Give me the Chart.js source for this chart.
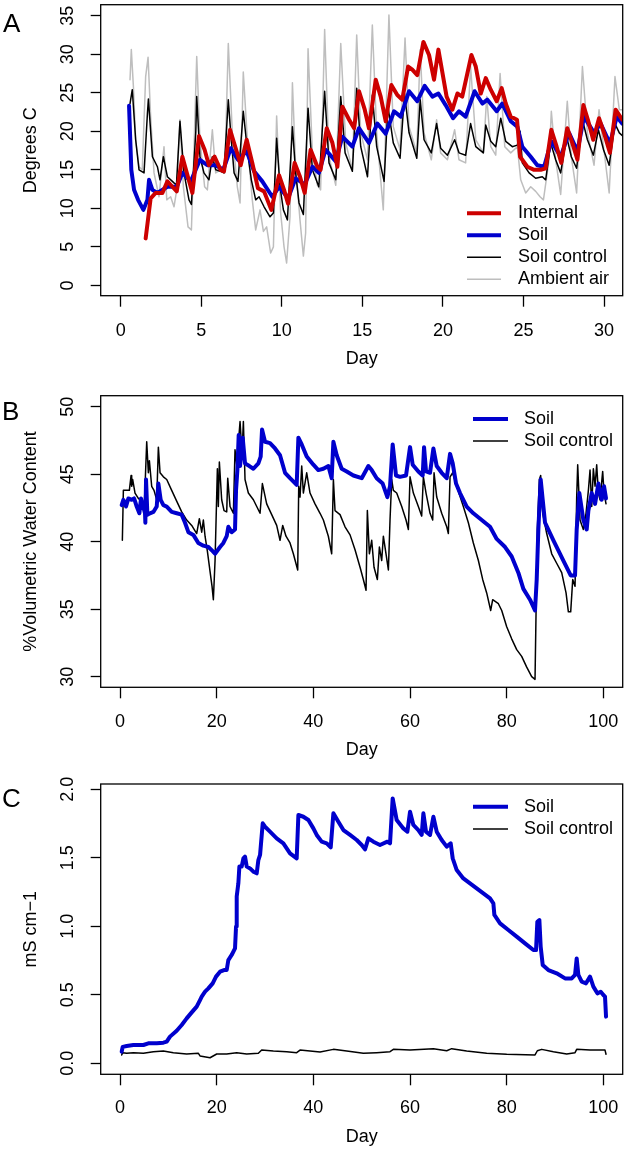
<!DOCTYPE html>
<html>
<head>
<meta charset="utf-8">
<script src="https://cdn.jsdelivr.net/npm/chart.js@4.4.1/dist/chart.umd.min.js"></script>
<style>
  body { margin: 0; background: #fff; }
  #page { position: relative; width: 626px; height: 1150px; }
  canvas { position: absolute; left: 0; }
  .tag { position: absolute; font: 26px "Liberation Sans", Arial, sans-serif; line-height: 30px; color: #000; }
</style>
</head>
<body>
<div id="page">
  <canvas id="chartA" width="626" height="385" style="top:0px"></canvas>
  <canvas id="chartB" width="626" height="390" style="top:385px"></canvas>
  <canvas id="chartC" width="626" height="375" style="top:775px"></canvas>
  <div class="tag" style="left:3px;top:7.6px">A</div>
  <div class="tag" style="left:2px;top:396px">B</div>
  <div class="tag" style="left:2px;top:783px">C</div>
</div>
<script>
// ---- panel A: temperature, [day, degrees C]
const aInternal = [[1.55,6.1],[1.86,11.3],[2.17,12.0],[2.59,12.0],[2.9,13.5],[3.21,12.8],[3.48,12.2],[3.83,16.7],[4.45,12.0],[4.86,19.4],[5.21,17.6],[5.48,15.6],[5.83,16.7],[6.2,15.0],[6.41,14.8],[6.79,20.2],[7.14,17.8],[7.45,15.6],[7.82,18.9],[8.17,15.9],[8.52,12.6],[8.9,12.2],[9.35,9.8],[9.83,14.3],[10.14,12.4],[10.39,10.6],[10.8,15.9],[11.13,14.1],[11.42,12.0],[11.79,17.6],[12.21,15.4],[12.41,15.0],[12.79,20.4],[13.14,18.5],[13.45,15.4],[13.76,23.2],[14.18,21.5],[14.49,20.4],[14.79,25.2],[15.15,22.8],[15.41,20.4],[15.83,26.7],[16.14,24.5],[16.45,21.3],[16.8,26.0],[17.17,24.7],[17.48,24.1],[17.84,28.4],[18.1,28.0],[18.41,27.3],[18.79,31.6],[19.14,29.9],[19.45,26.7],[19.72,30.6],[20.23,24.5],[20.59,22.8],[20.9,24.9],[21.2,24.5],[21.77,29.9],[22.04,28.4],[22.35,24.9],[22.66,26.9],[22.97,25.4],[23.34,23.9],[23.65,25.6],[23.9,23.6],[24.21,21.9],[24.6,21.5],[24.79,16.7],[25.24,15.4],[25.66,15.0],[26.07,15.0],[26.38,15.2],[26.73,20.2],[27.06,18.0],[27.35,15.9],[27.72,20.4],[28.03,18.5],[28.35,16.3],[28.72,23.4],[29.0,21.5],[29.33,18.9],[29.69,21.7],[30.0,19.8],[30.37,17.2],[30.72,22.8],[31.13,21.5]];
const aSoil = [[0.52,23.3],[0.66,15.0],[0.83,12.4],[1.08,11.1],[1.41,9.8],[1.66,11.1],[1.76,13.7],[1.97,12.4],[2.28,12.0],[2.9,12.8],[3.48,12.8],[3.83,14.6],[4.35,13.5],[4.92,16.3],[5.38,15.6],[5.9,15.6],[6.37,15.0],[6.83,17.8],[7.28,16.3],[7.82,17.4],[8.28,14.8],[8.79,13.5],[9.41,11.5],[9.83,12.8],[10.39,11.3],[10.86,13.9],[11.42,13.1],[11.9,15.4],[12.3,14.6],[12.72,17.6],[13.35,16.1],[13.76,19.3],[14.38,18.0],[14.79,20.4],[15.41,18.5],[15.93,21.0],[16.45,19.7],[16.97,22.6],[17.38,21.9],[17.9,25.2],[18.41,23.9],[18.87,25.9],[19.35,24.5],[19.72,24.9],[20.17,23.4],[20.63,21.7],[21.0,22.6],[21.41,21.9],[21.97,25.2],[22.45,23.6],[22.76,24.1],[23.34,22.6],[23.69,23.6],[24.21,21.3],[24.62,20.6],[24.93,18.0],[25.45,16.7],[25.86,15.6],[26.28,15.4],[26.73,18.7],[27.31,16.7],[27.83,19.8],[28.35,17.4],[28.76,21.9],[29.38,19.8],[29.79,21.0],[30.37,18.4],[30.79,21.9],[31.13,21.0]];
const aControl = [[0.58,23.6],[0.72,25.4],[0.93,18.9],[1.14,15.0],[1.45,14.6],[1.66,22.3],[1.72,24.2],[1.97,16.7],[2.28,15.4],[2.44,13.7],[2.65,16.7],[2.9,14.1],[3.21,13.5],[3.46,13.0],[3.68,21.3],[3.93,14.6],[4.24,11.1],[4.39,10.5],[4.66,19.8],[4.72,24.5],[4.92,16.7],[5.17,14.6],[5.48,13.7],[5.69,16.7],[5.9,15.0],[6.2,14.8],[6.41,14.6],[6.68,24.1],[6.83,19.8],[7.04,14.6],[7.28,13.5],[7.61,22.6],[7.86,17.6],[8.11,13.7],[8.38,11.1],[8.59,11.5],[8.9,10.2],[9.27,8.9],[9.48,9.4],[9.68,19.1],[9.89,12.8],[10.1,9.8],[10.35,8.5],[10.66,20.6],[10.86,14.6],[11.07,10.7],[11.34,9.2],[11.63,23.0],[11.9,15.0],[12.3,12.8],[12.66,25.2],[12.93,15.9],[13.35,13.7],[13.66,24.5],[13.93,17.2],[14.38,14.8],[14.65,25.6],[14.9,18.0],[15.32,14.1],[15.62,24.7],[15.89,18.0],[16.35,13.5],[16.59,23.2],[16.92,18.5],[17.34,16.5],[17.62,24.9],[17.9,19.8],[18.38,16.5],[18.59,24.1],[18.83,18.9],[19.28,17.2],[19.61,21.0],[19.86,17.8],[20.28,16.9],[20.73,18.9],[21.0,17.2],[21.41,16.9],[21.72,21.0],[22.04,18.0],[22.51,17.2],[22.66,20.8],[22.97,18.7],[23.28,18.0],[23.59,21.7],[23.9,18.7],[24.31,18.0],[24.62,18.2],[24.79,20.0],[24.93,15.9],[25.35,14.6],[25.76,13.9],[26.17,14.1],[26.38,13.7],[26.69,18.5],[27.0,16.3],[27.31,14.6],[27.68,19.3],[27.97,16.7],[28.3,15.2],[28.66,21.5],[28.97,18.9],[29.34,16.9],[29.65,20.2],[29.97,17.6],[30.32,15.6],[30.68,21.0],[30.95,19.8],[31.21,19.3]];
const aAmbient = [[0.58,26.7],[0.66,30.6],[0.79,25.8],[0.93,18.9],[1.14,15.4],[1.34,15.0],[1.55,27.1],[1.7,29.6],[1.86,21.9],[2.07,14.6],[2.38,11.5],[2.69,18.0],[2.86,11.1],[3.1,11.5],[3.31,10.2],[3.48,12.4],[3.68,21.5],[3.89,12.8],[4.18,7.6],[4.39,7.2],[4.55,17.6],[4.72,29.7],[4.92,18.9],[5.21,12.8],[5.38,12.4],[5.69,20.2],[5.9,14.6],[6.2,15.0],[6.46,14.6],[6.68,31.4],[6.93,19.8],[7.24,12.8],[7.41,10.7],[7.61,27.7],[7.9,17.6],[8.17,11.1],[8.38,7.2],[8.65,9.8],[8.86,7.0],[9.06,7.6],[9.31,4.2],[9.48,5.0],[9.68,22.0],[9.93,9.4],[10.14,5.0],[10.3,2.9],[10.51,8.9],[10.66,26.3],[10.86,15.4],[11.13,8.5],[11.34,3.8],[11.48,6.8],[11.63,30.7],[11.9,17.2],[12.21,13.0],[12.41,12.4],[12.66,33.2],[12.93,16.7],[13.35,13.0],[13.66,31.4],[13.97,18.5],[14.38,15.0],[14.65,32.5],[14.9,19.8],[15.32,16.3],[15.62,33.8],[15.89,19.8],[16.3,9.8],[16.65,35.1],[16.92,20.6],[17.34,17.6],[17.65,32.1],[17.9,20.6],[18.38,17.2],[18.59,30.6],[18.83,19.8],[19.28,16.3],[19.61,21.5],[19.86,17.2],[20.28,16.3],[20.73,20.2],[21.0,16.3],[21.41,15.9],[21.72,28.4],[22.04,18.9],[22.51,17.2],[22.72,24.5],[22.97,18.0],[23.28,16.9],[23.55,27.5],[23.84,18.0],[24.21,17.2],[24.62,18.0],[24.83,13.7],[25.14,12.0],[25.45,12.8],[25.76,12.2],[26.03,11.5],[26.24,11.1],[26.59,16.3],[26.73,22.6],[27.0,16.3],[27.31,11.8],[27.72,23.9],[27.97,16.7],[28.3,12.0],[28.66,28.4],[28.97,19.8],[29.38,15.6],[29.69,22.8],[29.97,18.0],[30.32,12.0],[30.68,27.1],[30.95,22.8],[31.21,22.8]];
const aXTicks = [0, 5, 10, 15, 20, 25, 30];
const aYTicks = [0, 5, 10, 15, 20, 25, 30, 35];

// ---- panel B: volumetric water content, [day, %]
const bSoil = [[0.34,42.7],[0.69,43.1],[1.24,42.6],[1.72,43.2],[2.41,43.1],[2.9,43.2],[3.1,43.0],[3.45,42.6],[4.0,42.1],[4.34,43.2],[5.17,42.1],[5.24,41.4],[5.38,44.6],[5.66,42.0],[6.2,42.1],[6.9,42.2],[7.59,42.6],[7.93,44.3],[8.41,43.1],[8.97,42.7],[9.66,42.6],[10.69,42.2],[11.72,42.1],[12.76,42.0],[13.45,41.4],[14.14,40.7],[15.17,40.5],[16.2,39.9],[17.24,39.7],[18.28,39.6],[19.17,39.3],[19.66,39.1],[20.69,39.6],[21.38,39.9],[22.07,40.4],[22.41,41.1],[23.1,40.7],[23.79,40.9],[24.0,43.8],[24.28,45.3],[24.55,47.9],[24.83,45.6],[25.38,47.7],[25.86,45.8],[26.76,45.6],[27.59,45.4],[28.62,45.8],[29.1,46.3],[29.38,48.3],[30.0,47.4],[31.03,47.3],[32.07,46.9],[33.1,46.4],[34.14,45.1],[35.17,44.7],[36.55,44.2],[36.9,47.7],[37.59,47.2],[38.62,46.3],[40.0,45.7],[41.03,45.3],[42.07,45.4],[43.1,45.6],[43.79,44.7],[44.14,47.4],[44.83,46.4],[45.86,45.4],[46.9,45.2],[48.28,44.9],[50.0,44.7],[51.38,45.6],[52.07,45.3],[53.1,44.7],[54.34,44.3],[55.31,43.3],[55.86,44.1],[56.41,47.2],[57.1,44.9],[57.93,44.8],[59.17,44.9],[60.0,47.0],[60.55,45.7],[61.72,45.2],[62.62,44.9],[62.9,47.0],[63.31,45.2],[64.14,45.1],[64.83,46.9],[65.52,45.6],[66.55,45.1],[67.59,44.7],[68.28,46.5],[68.83,45.8],[69.52,44.3],[70.34,43.6],[71.72,42.6],[73.1,42.1],[74.83,41.6],[76.55,41.1],[77.93,40.2],[79.66,39.6],[81.03,38.9],[82.41,37.7],[83.45,36.5],[84.83,35.7],[85.86,34.9],[86.21,37.2],[86.55,40.9],[87.03,44.6],[87.45,43.1],[87.93,41.4],[89.66,40.1],[91.72,38.6],[93.24,37.5],[94.14,37.5],[94.48,40.9],[95.03,43.6],[95.86,41.6],[96.55,40.9],[96.9,42.3],[97.59,43.6],[98.28,42.8],[98.97,44.3],[99.66,43.1],[100.14,44.1],[100.55,43.2]];
const bControl = [[0.48,40.1],[0.69,43.8],[1.24,43.8],[1.93,43.8],[2.28,44.9],[2.41,44.1],[2.62,44.6],[3.1,43.6],[3.79,43.2],[4.48,43.0],[4.97,42.2],[5.52,47.4],[5.86,45.1],[6.07,46.0],[6.55,44.1],[7.03,43.8],[7.59,43.1],[7.93,47.0],[8.28,45.1],[8.97,44.8],[9.66,44.6],[10.69,43.8],[11.72,43.0],[12.76,42.2],[13.79,41.6],[14.83,41.2],[15.86,40.6],[16.41,41.7],[16.9,40.7],[17.24,41.6],[17.59,40.4],[18.07,39.3],[18.62,37.8],[19.03,36.7],[19.31,35.7],[19.66,38.6],[20.14,45.4],[20.34,42.6],[20.55,45.9],[21.03,43.1],[21.52,42.3],[22.07,42.2],[22.28,44.7],[22.76,42.6],[23.45,42.1],[23.79,46.8],[24.14,45.7],[24.83,48.9],[25.24,46.5],[25.52,48.9],[25.86,44.6],[26.55,43.6],[27.59,43.1],[28.28,42.6],[28.97,42.1],[29.45,44.3],[30.34,42.8],[31.38,42.0],[32.41,41.2],[33.1,40.1],[33.66,41.2],[34.34,40.4],[35.17,39.9],[35.86,39.1],[36.76,37.9],[36.97,44.1],[37.24,43.3],[37.59,45.6],[37.93,43.6],[38.62,45.1],[39.31,43.6],[40.34,42.8],[41.38,42.1],[42.07,41.6],[43.1,40.4],[43.79,39.1],[44.14,44.6],[44.48,42.3],[45.52,42.0],[46.55,41.1],[47.59,40.5],[48.62,39.4],[49.66,38.1],[50.34,37.2],[50.9,36.4],[51.17,42.3],[51.59,39.1],[52.07,40.1],[52.55,38.1],[53.24,37.2],[53.66,39.6],[54.14,38.6],[54.48,40.4],[55.03,39.1],[55.52,37.9],[55.86,41.6],[56.21,44.6],[56.55,43.8],[57.24,43.6],[58.28,42.6],[59.17,41.6],[59.66,40.9],[60.0,44.8],[60.69,43.6],[61.72,42.6],[62.41,41.9],[62.76,44.8],[63.31,43.6],[64.14,42.1],[64.69,41.6],[64.97,45.1],[65.52,43.3],[66.55,42.1],[67.59,41.1],[67.93,40.6],[68.28,44.8],[68.83,45.1],[69.66,44.1],[71.03,42.6],[72.07,41.4],[73.1,39.9],[74.14,38.6],[75.03,37.2],[75.86,36.2],[76.69,34.9],[77.1,35.7],[78.28,35.4],[78.97,34.9],[80.0,33.7],[81.03,32.8],[82.07,32.0],[83.1,31.5],[84.14,30.7],[85.17,30.0],[85.86,29.8],[86.07,34.7],[86.34,40.9],[86.76,44.6],[87.03,44.9],[87.45,42.1],[88.28,40.6],[89.31,39.1],[90.34,38.4],[91.38,37.7],[92.28,36.2],[92.76,34.8],[93.24,34.8],[93.66,37.2],[94.14,36.7],[94.48,43.3],[94.69,45.7],[95.17,41.6],[95.86,40.9],[96.41,42.1],[96.9,43.8],[97.24,45.3],[97.59,42.6],[97.93,45.4],[98.28,44.1],[98.62,45.7],[98.97,43.6],[99.31,43.1],[99.86,45.2],[100.14,43.6],[100.55,42.8]];
const bXTicks = [0, 20, 40, 60, 80, 100];
const bYTicks = [30, 35, 40, 45, 50];

// ---- panel C: conductivity, [day, mS/cm]
const cSoil = [[0.34,0.085],[0.55,0.12],[1.38,0.127],[2.76,0.134],[4.83,0.134],[5.86,0.146],[7.59,0.146],[8.97,0.151],[9.66,0.158],[10.34,0.195],[11.72,0.238],[12.76,0.28],[13.79,0.328],[14.83,0.372],[15.86,0.414],[16.55,0.462],[16.9,0.487],[17.59,0.523],[18.28,0.547],[19.17,0.584],[19.86,0.633],[20.69,0.669],[21.52,0.681],[22.07,0.681],[22.41,0.754],[23.1,0.791],[23.79,0.839],[24.0,0.998],[24.14,1.217],[24.48,1.314],[24.69,1.436],[25.17,1.436],[25.52,1.496],[25.86,1.509],[26.21,1.436],[26.9,1.423],[27.59,1.399],[28.28,1.387],[28.62,1.484],[28.97,1.521],[29.52,1.752],[30.0,1.727],[31.03,1.691],[32.41,1.642],[33.79,1.606],[35.17,1.533],[36.55,1.496],[36.9,1.813],[37.93,1.8],[38.97,1.776],[40.0,1.715],[40.69,1.667],[41.72,1.618],[42.76,1.606],[43.59,1.577],[44.14,1.825],[45.17,1.764],[46.21,1.703],[47.59,1.667],[48.97,1.63],[50.0,1.594],[50.69,1.562],[51.38,1.642],[52.41,1.618],[53.79,1.594],[55.31,1.618],[55.86,1.606],[56.41,1.934],[57.24,1.776],[58.62,1.715],[59.45,1.691],[60.0,1.837],[60.69,1.74],[61.72,1.703],[62.41,1.667],[62.76,1.825],[63.31,1.691],[64.14,1.667],[64.83,1.8],[65.52,1.691],[66.55,1.63],[67.59,1.582],[68.41,1.606],[68.83,1.496],[69.66,1.411],[71.03,1.35],[72.41,1.314],[73.79,1.277],[75.17,1.241],[76.55,1.204],[77.24,1.168],[77.45,1.083],[78.62,1.022],[80.34,0.973],[82.07,0.925],[83.79,0.876],[85.52,0.827],[86.07,0.827],[86.34,1.034],[86.76,1.046],[87.03,0.852],[87.45,0.718],[88.62,0.681],[90.34,0.657],[92.07,0.62],[93.45,0.62],[94.14,0.645],[94.48,0.766],[94.83,0.645],[95.52,0.596],[96.41,0.584],[97.24,0.633],[97.93,0.56],[98.76,0.511],[99.45,0.523],[100.0,0.499],[100.34,0.487],[100.55,0.341]];
const cControl = [[0.34,0.061],[0.55,0.078],[1.38,0.073],[2.76,0.078],[4.83,0.073],[6.9,0.085],[8.97,0.09],[11.03,0.078],[13.79,0.068],[16.21,0.073],[16.55,0.054],[18.62,0.041],[20.0,0.068],[22.07,0.068],[24.14,0.078],[26.21,0.068],[28.62,0.073],[29.31,0.097],[31.72,0.09],[34.48,0.085],[36.55,0.078],[37.24,0.097],[39.31,0.09],[41.38,0.083],[44.14,0.102],[46.9,0.09],[50.34,0.073],[53.1,0.078],[55.86,0.085],[56.55,0.102],[60.0,0.097],[64.83,0.107],[67.59,0.092],[68.62,0.107],[71.72,0.09],[75.86,0.073],[80.0,0.066],[85.86,0.061],[86.34,0.092],[87.24,0.102],[89.66,0.085],[92.41,0.068],[94.14,0.078],[94.48,0.102],[97.24,0.097],[100.34,0.097],[100.55,0.066]];
const cXTicks = [0, 20, 40, 60, 80, 100];
const cYTicks = [0, 0.5, 1, 1.5, 2];

const RED = '#cd0000', BLUE = '#0000cd', BLACK = '#000000', GREY = '#bebebe';
const FONT = { family: '"Liberation Sans", Arial, sans-serif', size: 18 };

// box round the plot region plus the in-plot key
const boxAndKey = {
  id: 'boxAndKey',
  afterDatasetsDraw(chart, args, opts) {
    const { ctx, chartArea: a } = chart;
    ctx.save();
    ctx.strokeStyle = '#000';
    ctx.lineWidth = 1.3;
    ctx.strokeRect(a.left, a.top, a.right - a.left, a.bottom - a.top);
    ctx.font = '18px "Liberation Sans", Arial, sans-serif';
    ctx.textBaseline = 'middle';
    chart.data.datasets.forEach((ds, i) => {
      const y = opts.y + i * opts.dy;
      ctx.strokeStyle = ds.borderColor;
      ctx.lineWidth = ds.borderWidth;
      ctx.beginPath();
      ctx.moveTo(opts.x1, y);
      ctx.lineTo(opts.x2, y);
      ctx.stroke();
      ctx.fillStyle = '#000';
      ctx.fillText(ds.label, opts.tx, y);
    });
    ctx.restore();
  }
};

function line(label, arr, color, width) {
  return {
    label, data: arr.map(([x, y]) => ({ x, y })),
    borderColor: color, borderWidth: width, pointRadius: 0, tension: 0,
    fill: false, borderJoinStyle: 'round', borderCapStyle: 'round'
  };
}

function makeChart(id, p) {
  new Chart(document.getElementById(id), {
    type: 'line',
    data: { datasets: p.datasets },
    options: {
      responsive: false, animation: false,
      layout: { padding: { left: 0, right: 3.3, top: p.top, bottom: 0 } },
      plugins: { legend: { display: false }, tooltip: { enabled: false }, boxAndKey: p.key },
      scales: {
        x: {
          type: 'linear', min: p.xMin, max: p.xMax,
          afterBuildTicks: s => { s.ticks = p.xTicks.map(v => ({ value: v })); },
          afterFit: s => { s.height = p.xH; s.paddingLeft = 0; s.paddingRight = 0; },
          grid: { drawOnChartArea: false, drawTicks: true, tickLength: 11, tickWidth: 1.3, tickColor: '#000' },
          border: { display: false },
          ticks: { color: '#000', font: FONT, padding: p.xPad, maxRotation: 0, autoSkip: false },
          title: { display: true, text: 'Day', color: '#000', font: FONT, padding: { top: 0, bottom: p.dayPad } }
        },
        y: {
          type: 'linear', min: p.yMin, max: p.yMax,
          afterBuildTicks: s => { s.ticks = p.yTicks.map(v => ({ value: v })); },
          afterCalculateLabelRotation: s => { s.labelRotation = 90; },
          afterFit: s => { s.width = 100.7; s.paddingTop = 0; s.paddingBottom = 0; },
          grid: { drawOnChartArea: false, drawTicks: true, tickLength: 10, tickWidth: 1.3, tickColor: '#000' },
          border: { display: false },
          ticks: { color: '#000', font: FONT, padding: p.yPad, crossAlign: 'center', autoSkip: false, callback: p.yFmt },
          title: { display: true, text: p.yTitle, color: '#000', font: FONT, padding: { top: 20, bottom: 0 } }
        }
      }
    },
    plugins: [boxAndKey]
  });
}

makeChart('chartA', {
  datasets: [
    line('Internal', aInternal, RED, 4),
    line('Soil', aSoil, BLUE, 4),
    line('Soil control', aControl, BLACK, 1.5),
    line('Ambient air', aAmbient, GREY, 1.5)
  ],
  top: 4.7, xH: 89.3, xPad: 13.2, dayPad: 14.8,
  xMin: -1.24, xMax: 31.16, xTicks: aXTicks,
  yMin: -1.34, yMax: 36.43, yTicks: aYTicks, yPad: 12.4, yFmt: v => String(v),
  yTitle: 'Degrees C',
  key: { x1: 467, x2: 501, tx: 518, y: 213.3, dy: 22 }
});

makeChart('chartB', {
  datasets: [
    line('Soil', bSoil, BLUE, 4),
    line('Soil control', bControl, BLACK, 1.5)
  ],
  top: 10.7, xH: 87.7, xPad: 12.6, dayPad: 14,
  xMin: -4, xMax: 104, xTicks: bXTicks,
  yMin: 29.21, yMax: 50.81, yTicks: bYTicks, yPad: 12.4, yFmt: v => String(v),
  yTitle: '%Volumetric Water Content',
  key: { x1: 473, x2: 508, tx: 524, y: 34, dy: 22 }
});

makeChart('chartC', {
  datasets: [
    line('Soil', cSoil, BLUE, 4),
    line('Soil control', cControl, BLACK, 1.5)
  ],
  top: 9, xH: 75.7, xPad: 11.9, dayPad: 2.5,
  xMin: -4, xMax: 104, xTicks: cXTicks,
  yMin: -0.080, yMax: 2.039, yTicks: cYTicks, yPad: 9.9, yFmt: v => v.toFixed(1),
  yTitle: 'mS cm\u22121',
  key: { x1: 473, x2: 508, tx: 524, y: 31.7, dy: 22.3 }
});
</script>
</body>
</html>
